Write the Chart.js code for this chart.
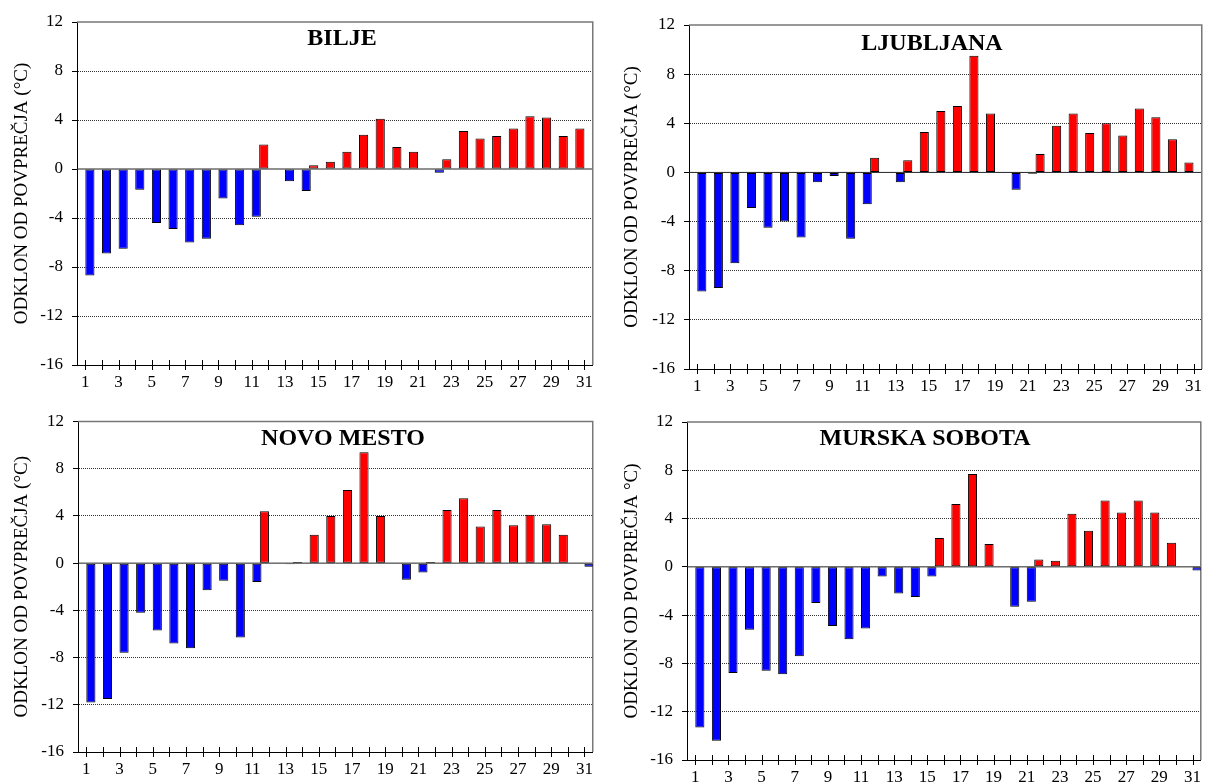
<html lang="sl">
  <head>
    <meta charset="utf-8">
    <title>Odklon od povprečja</title>
    <style>
      html, body { margin: 0; padding: 0; background: white; overflow: hidden; }
      body { width: 1208px; height: 782px; position: relative; }
      .panel { position: absolute; }
    </style>
  </head>
  <body>

    <canvas id="c1" class="panel" width="600" height="390" style="left:0px;top:0px"></canvas>
    <canvas id="c2" class="panel" width="599" height="394" style="left:610px;top:0px"></canvas>
    <canvas id="c3" class="panel" width="600" height="381" style="left:0px;top:396px"></canvas>
    <canvas id="c4" class="panel" width="598" height="389" style="left:610px;top:396px"></canvas>

    <script src="https://cdn.jsdelivr.net/npm/chart.js/dist/chart.umd.min.js"></script>
    <script>
    // data
    const days = ['1','2','3','4','5','6','7','8','9','10','11','12','13','14','15','16',
                  '17','18','19','20','21','22','23','24','25','26','27','28','29','30','31'];
    const yTicks = [-16, -12, -8, -4, 0, 4, 8, 12];

    const bilje     = [-8.7,-6.9,-6.5,-1.7,-4.4,-4.9,-6.0,-5.7,-2.4,-4.6,-3.9, 2.0,-1.0,-1.8, 0.3, 0.6,
                        1.4, 2.8, 4.1, 1.8, 1.4,-0.3, 0.8, 3.1, 2.5, 2.7, 3.3, 4.3, 4.2, 2.7, 3.3];
    const ljubljana = [-9.7,-9.4,-7.4,-2.9,-4.5,-4.0,-5.3,-0.8,-0.3,-5.4,-2.6, 1.2,-0.8, 1.0, 3.3, 5.0,
                        5.4, 9.5, 4.8,-1.4,-0.1, 1.5, 3.8, 4.8, 3.2, 4.0, 3.0, 5.2, 4.5, 2.7, 0.8];
    const novoMesto = [-11.8,-11.5,-7.6,-4.2,-5.7,-6.8,-7.2,-2.3,-1.5,-6.3,-1.6, 4.4,-0.1, 0.1, 2.4, 4.0,
                        6.2, 9.4, 4.0,-1.4,-0.8, 0.1, 4.5, 5.5, 3.1, 4.5, 3.2, 4.1, 3.3, 2.4,-0.3];
    const murska    = [-13.3,-14.4,-8.8,-5.2,-8.6,-8.9,-7.4,-3.0,-4.9,-6.0,-5.1,-0.8,-2.2,-2.5,-0.8, 2.4,
                        5.2, 7.7, 1.9,-3.3,-2.9, 0.6, 0.5, 4.4, 3.0, 5.5, 4.5, 5.5, 4.5, 2.0,-0.3];

    const SERIF = '"Liberation Serif", "Times New Roman", serif';

    // frame, zero line, crossing x ticks and the station name inside the plot
    const frame = {
      id: 'frame',
      beforeDatasetsDraw(chart, args, opts) {
        const {ctx, chartArea: a, scales: {y}} = chart;
        ctx.save();
        const y0 = y.getPixelForValue(0);
        ctx.strokeStyle = '#222';
        ctx.lineWidth = 1;
        ctx.beginPath();
        ctx.moveTo(a.left, y0);
        ctx.lineTo(a.right, y0);
        ctx.stroke();
        ctx.strokeStyle = '#777';
        ctx.lineWidth = 1.5;
        ctx.beginPath();
        ctx.moveTo(a.left, a.top);
        ctx.lineTo(a.right, a.top);
        ctx.lineTo(a.right, a.bottom);
        ctx.stroke();
        ctx.restore();
      },
      afterDraw(chart, args, opts) {
        const {ctx, chartArea: a, scales: {x}} = chart;
        ctx.save();
        ctx.strokeStyle = '#000';
        ctx.lineWidth = 1;
        ctx.beginPath();
        for (let i = 0; i < days.length; i++) {
          const px = Math.round(x.getPixelForValue(i)) + 0.5;
          ctx.moveTo(px, a.bottom - 5);
          ctx.lineTo(px, a.bottom + 5);
        }
        ctx.stroke();
        ctx.fillStyle = '#000';
        ctx.font = 'bold 24px ' + SERIF;
        ctx.textAlign = 'center';
        ctx.textBaseline = 'middle';
        ctx.fillText(opts.text, a.left + opts.dx, a.top + opts.dy);
        ctx.restore();
      }
    };

    function makeChart(id, name, yTitle, values, lay) {
      const warm = values.map(v => v >= 0 ? v : null);
      const cold = values.map(v => v < 0 ? v : null);
      return new Chart(document.getElementById(id), {
        type: 'bar',
        data: {
          labels: days,
          datasets: [
            { label: 'nad', data: warm, backgroundColor: '#ff0000' },
            { label: 'pod', data: cold, backgroundColor: '#0000ff' }
          ]
        },
        options: {
          responsive: false,
          animation: false,
          events: [],
          categoryPercentage: 1.1,
          barPercentage: 1.0,
          datasets: {
            bar: { borderColor: '#000', borderWidth: 1, borderSkipped: false }
          },
          layout: { padding: { left: 0, top: lay.padTop, right: lay.padRight, bottom: 0 } },
          scales: {
            x: {
              offset: true,
              afterFit: s => { s.height = 25; },
              grid: { display: true, drawOnChartArea: false, drawTicks: false },
              border: { display: true, color: '#000', width: 1 },
              ticks: {
                autoSkip: false, maxRotation: 0, padding: 7, color: '#000',
                font: { family: SERIF, size: 17 },
                callback: (v, i) => i % 2 === 0 ? days[i] : ''
              }
            },
            y: {
              min: -16, max: 12,
              afterFit: s => { s.width = lay.yW; },
              afterBuildTicks: s => { s.ticks = yTicks.map(v => ({value: v})); },
              grid: {
                color: c => [12, 0, -16].includes(c.tick.value) ? 'rgba(0,0,0,0)' : '#333',
                tickColor: '#000', tickLength: 5, lineWidth: 1
              },
              border: { display: true, color: '#000', width: 1, dash: [1, 1] },
              ticks: { padding: 9, color: '#000', font: { family: SERIF, size: 17 } },
              title: {
                display: true, text: yTitle, color: '#000',
                font: { family: SERIF, size: 19, lineHeight: 1.2 },
                padding: { top: 10.5, bottom: 0 }
              }
            }
          },
          plugins: {
            legend: { display: false },
            tooltip: { enabled: false },
            frame: { text: name, dx: lay.dx, dy: lay.dy }
          }
        },
        plugins: [frame]
      });
    }

    const yT = 'ODKLON OD POVPREČJA (°C)';
    makeChart('c1', 'BILJE', yT, bilje,
      { padTop: 22, padRight: 3, yW: 77, dx: 265, dy: 17 });
    makeChart('c2', 'LJUBLJANA', yT, ljubljana,
      { padTop: 25, padRight: 0, yW: 79, dx: 243, dy: 19 });
    makeChart('c3', 'NOVO MESTO', yT, novoMesto,
      { padTop: 25.5, padRight: 4, yW: 78, dx: 265, dy: 17.5 });
    makeChart('c4', 'MURSKA SOBOTA', 'ODKLON OD POVPREČJA °C)', murska,
      { padTop: 26, padRight: 0, yW: 77, dx: 238, dy: 17 });
    </script>
  </body>
</html>
